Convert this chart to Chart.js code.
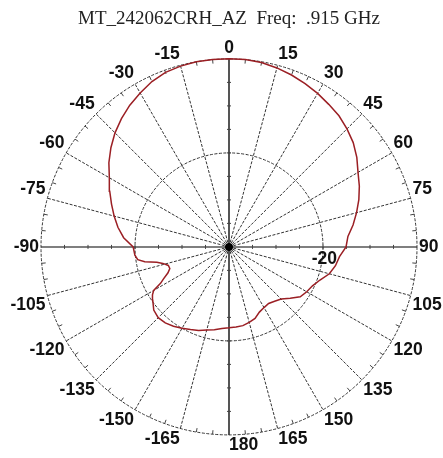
<!DOCTYPE html>
<html>
<head>
<meta charset="utf-8">
<script src="https://cdn.jsdelivr.net/npm/chart.js@4"></script>
<style>
  html, body { margin: 0; padding: 0; background: #fff; }
  canvas { display: block; }
</style>
</head>
<body>
<canvas id="chart" width="443" height="458"></canvas>
<script>
const chartTitle = 'MT_242062CRH_AZ  Freq:  .915 GHz';

const azimuthDeg = [
  -180, -175, -170, -165, -160, -155, -150, -145, -140, -135, -130, -125,
  -122, -120, -118, -116, -113, -110, -107, -104, -102, -100, -98, -95,
  -90, -85, -80, -75, -70, -65, -60, -55, -50, -45, -40, -35, -30, -25,
  -20, -15, -10, -5, 0, 5, 10, 15, 20, 25, 30, 35, 40, 45, 50, 55, 60,
  65, 70, 75, 80, 85, 90, 95, 100, 105, 110, 115, 120, 125, 130, 135,
  140, 145, 150, 155, 160, 165, 170, 175, 180
];
const gainDb = [
  -22.8, -22.6, -22.1, -21.7, -21.1, -20.6, -20.0, -19.4, -18.9, -18.7, -19.1, -20.2,
  -20.8, -21.5, -23.5, -24.5, -25.9, -26.6, -26.5, -25.5, -24.3, -21.8, -20.4, -19.9,
  -19.6, -17.5, -16.0, -14.7, -13.4, -12.0, -10.6, -8.8, -7.2, -5.7, -4.4, -3.2, -2.2, -1.2,
  -0.5, -0.2, 0, 0, 0, 0, -0.2, -0.6, -1.1, -1.7, -2.3, -3.0, -3.6, -4.5, -5.5, -6.8, -8.3,
  -9.4, -10.6, -11.9, -13.2, -14.6, -15.1, -16.4, -17.0, -17.9, -19.4, -20.4, -20.9, -21.5, -23.0, -24.3,
  -24.9, -25.3, -25.1, -24.7, -23.8, -23.4, -23.0, -22.9, -22.8
];

// grid
const dbMin = -40;          // centre of the plot
const ringDb = [-20, 0];    // circles
const spokeDeg = [0, 15, 30, 45, 60, 75, 90, 105, 120, 135, 150, 165, 180,
                  -165, -150, -135, -120, -105, -90, -75, -60, -45, -30, -15];
const ringLabel = '-20';

const toRad = d => d * Math.PI / 180;
// polar (deg, dB) -> cartesian data units, 0 deg up, clockwise
function polar(deg, db) {
  const r = db - dbMin;
  return { x: r * Math.sin(toRad(deg)), y: r * Math.cos(toRad(deg)) };
}

const points = azimuthDeg.map((a, i) => polar(a, gainDb[i]));

const polarGrid = {
  id: 'polarGrid',
  beforeDatasetsDraw(chart) {
    const { ctx, scales: { x, y } } = chart;
    const px = p => ({ x: x.getPixelForValue(p.x), y: y.getPixelForValue(p.y) });
    const cx = x.getPixelForValue(0), cy = y.getPixelForValue(0);
    const R = x.getPixelForValue(-dbMin) - cx;

    ctx.save();
    // spokes
    spokeDeg.forEach(a => {
      const main = a % 90 === 0;
      const end = px(polar(a, 0));
      ctx.beginPath();
      ctx.strokeStyle = main ? '#555' : '#333';
      ctx.lineWidth = main ? (a % 180 === 0 ? 2 : 1.5) : 1;
      ctx.setLineDash(main ? [] : [3, 1.5]);
      ctx.moveTo(cx, cy);
      ctx.lineTo(end.x, end.y);
      ctx.stroke();
    });
    // circles
    ctx.setLineDash([3, 1.5]);
    ctx.strokeStyle = '#333';
    ctx.lineWidth = 1;
    ringDb.forEach(db => {
      const r = x.getPixelForValue(db - dbMin) - cx;
      ctx.beginPath();
      ctx.arc(cx, cy, r, 0, Math.PI * 2);
      ctx.stroke();
    });
    ctx.setLineDash([]);
    // small ticks every 5 deg on the outer circle
    ctx.strokeStyle = '#444';
    for (let a = -175; a <= 180; a += 5) {
      if (a % 15 === 0) continue;
      const s = Math.sin(toRad(a)), c = Math.cos(toRad(a));
      ctx.beginPath();
      ctx.moveTo(cx + R * s, cy - R * c);
      ctx.lineTo(cx + (R - 4) * s, cy - (R - 4) * c);
      ctx.stroke();
    }
    // ticks every 5 dB on the main axes
    for (let r = 5; r < -dbMin; r += 5) {
      const d = x.getPixelForValue(r) - cx;
      ctx.beginPath();
      ctx.moveTo(cx + d, cy - 2); ctx.lineTo(cx + d, cy + 2);
      ctx.moveTo(cx - d, cy - 2); ctx.lineTo(cx - d, cy + 2);
      ctx.moveTo(cx - 2, cy + d); ctx.lineTo(cx + 2, cy + d);
      ctx.moveTo(cx - 2, cy - d); ctx.lineTo(cx + 2, cy - d);
      ctx.stroke();
    }
    // centre dot
    ctx.fillStyle = '#000';
    ctx.beginPath();
    ctx.arc(cx, cy, 4, 0, Math.PI * 2);
    ctx.fill();

    // angle labels
    ctx.font = 'bold 17.5px "Liberation Sans", Arial, sans-serif';
    ctx.fillStyle = '#111';
    spokeDeg.forEach(a => {
      const s = Math.sin(toRad(a)), c = Math.cos(toRad(a));
      let align = s > 0.01 ? 'left' : s < -0.01 ? 'right' : (c > 0 ? 'center' : 'left');
      let base = Math.abs(c) < 0.01 ? 'middle' : (c > 0 ? 'bottom' : 'top');
      ctx.textAlign = align;
      ctx.textBaseline = base;
      ctx.fillText(String(a), cx + (R + 2) * s, cy - (R + 2) * c);
    });
    // ring label
    const rp = px(polar(90, ringDb[0]));
    ctx.textAlign = 'right';
    ctx.textBaseline = 'top';
    ctx.fillText(ringLabel, rp.x + 14, rp.y + 4);
    ctx.restore();
  }
};

new Chart(document.getElementById('chart'), {
  type: 'scatter',
  data: {
    datasets: [{
      data: points,
      showLine: true,
      borderColor: '#9b1f24',
      borderWidth: 1.5,
      pointRadius: 0,
      tension: 0,
      clip: false
    }]
  },
  options: {
    responsive: false,
    animation: false,
    layout: { padding: { left: 41, right: 26, top: 0, bottom: 23 } },
    plugins: {
      legend: { display: false },
      tooltip: { enabled: false },
      title: {
        display: true,
        text: chartTitle,
        color: '#222',
        font: { family: '"Liberation Serif", "Times New Roman", serif', size: 19, weight: 'normal' },
        padding: { top: 8, bottom: 28 }
      }
    },
    scales: {
      x: { type: 'linear', display: false, min: dbMin, max: -dbMin },
      y: { type: 'linear', display: false, min: dbMin, max: -dbMin }
    }
  },
  plugins: [polarGrid]
});
</script>
</body>
</html>
